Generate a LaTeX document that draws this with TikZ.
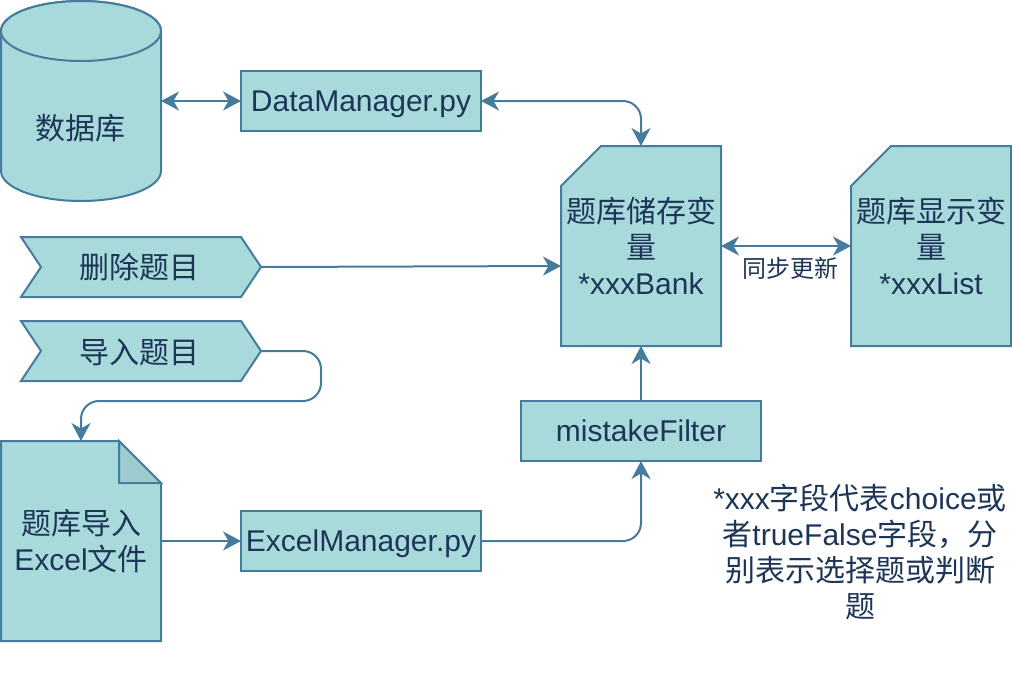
\documentclass[tikz,border=0pt]{standalone}
\usepackage{fontspec}
\setmainfont{Liberation Sans}
\newfontfamily\cjk{Noto Sans CJK SC}
\usetikzlibrary{arrows.meta,backgrounds}
\definecolor{shapefill}{HTML}{A8DADC}
\definecolor{foldfill}{HTML}{9DCCCF}
\definecolor{strokeblue}{HTML}{457B9D}
\definecolor{inkblue}{HTML}{1D3557}
\tikzset{
  x=1pt,y=-1pt,
  shapeline/.style={draw=strokeblue,fill=shapefill,line width=2pt,line join=miter},
  txt/.style={text=inkblue,inner sep=0pt,outer sep=0pt,align=center,font=\fontsize{30}{36}\selectfont},
  box/.style={txt,rectangle,minimum width=#1},
  oneline/.style={text height=27pt,text depth=6pt},
  link/.style={draw=strokeblue,line width=2pt,rounded corners=18pt,-{Stealth[length=18pt,width=19pt,inset=5.5pt]}},
  both/.style={link,{Stealth[length=18pt,width=19pt,inset=5.5pt]}-{Stealth[length=18pt,width=19pt,inset=5.5pt]}}
}
\begin{document}
\begin{tikzpicture}
\useasboundingbox (0,0) rectangle (1012,678);
% nodes
\node[box=160pt,minimum height=200pt] (cyl) at (81,101) {};
\node[txt] (cyltext) at (80,128) {{\cjk 数据库}};
\node[box=240pt,minimum height=60pt,oneline] (dm) at (361,101) {DataManager.py};
\node[box=240pt,minimum height=60pt] (del) at (141,267) {};
\node[txt] (deltext) at (139,267) {{\cjk 删除题目}};
\node[box=240pt,minimum height=60pt] (imp) at (141,351) {};
\node[txt] (imptext) at (139,352) {{\cjk 导入题目}};
\node[box=160pt,minimum height=200pt] (bank) at (641,246) {{\cjk 题库储存变}\\{\cjk 量}\\*xxxBank};
\node[box=160pt,minimum height=200pt] (list) at (931,246) {{\cjk 题库显示变}\\{\cjk 量}\\*xxxList};
\node[box=240pt,minimum height=60pt,oneline] (filter) at (641,431) {mistakeFilter};
\node[box=160pt,minimum height=200pt] (doc) at (81,541) {{\cjk 题库导入}\\Excel{\cjk 文件}};
\node[box=240pt,minimum height=60pt,oneline] (excel) at (361,541) {ExcelManager.py};
\node[txt] (note) at (860,552) {*xxx{\cjk 字段代表}choice{\cjk 或}\\{\cjk 者}trueFalse{\cjk 字段，分}\\{\cjk 别表示选择题或判断}\\{\cjk 题}};
\node[text=inkblue,inner sep=0pt,font=\fontsize{24}{28}\selectfont] (sync) at (790,268) {{\cjk 同步更新}};
% shapes
\begin{scope}[on background layer]
  \draw[shapeline] (cyl.north west) ++(0,30) arc[start angle=180,end angle=0,x radius=80pt,y radius=30pt] -- ++(0,140) arc[start angle=0,end angle=180,x radius=80pt,y radius=-30pt] -- cycle;
  \draw[shapeline] (cyl.north) ++(0,30) ellipse[x radius=80pt,y radius=30pt];
  \draw[shapeline] (dm.south west) rectangle (dm.north east);
  \draw[shapeline] (filter.south west) rectangle (filter.north east);
  \draw[shapeline] (excel.south west) rectangle (excel.north east);
  \draw[shapeline] (del.north west) -- ++(220,0) -- (del.east) -- ++(-20,30) -- (del.south west) -- ++(20,-30) -- cycle;
  \draw[shapeline] (imp.north west) -- ++(220,0) -- (imp.east) -- ++(-20,30) -- (imp.south west) -- ++(20,-30) -- cycle;
  \draw[shapeline] (bank.north west) ++(40,0) -- (bank.north east) -- (bank.south east) -- (bank.south west) -- ++(0,-160) -- cycle;
  \draw[shapeline] (list.north west) ++(40,0) -- (list.north east) -- (list.south east) -- (list.south west) -- ++(0,-160) -- cycle;
  \draw[shapeline] (doc.north west) -- ++(118,0) -- ++(42,42) -- (doc.south east) -- (doc.south west) -- cycle;
  \draw[shapeline,fill=foldfill] (doc.north west) ++(118,0) -- ++(42,42) -- ++(-42,0) -- cycle;
\end{scope}
% way points
\coordinate (dmturn) at (bank.north |- dm.east);
\coordinate (impa) at (321,351);
\coordinate (impb) at (321,401);
\coordinate (impc) at (81,401);
\coordinate (exturn) at (filter.south |- excel.east);
% connectors
\draw[both] (cyl.east) -- (dm.west);
\draw[both] (dm.east) -- (dmturn) -- (bank.north);
\draw[link] (del.east) -- (bank.west |- 0,266);
\draw[link] (imp.east) -- (impa) -- (impb) -- (impc) -- (doc.north);
\draw[link] (doc.east) -- (excel.west);
\draw[link] (excel.east) -- (exturn) -- (filter.south);
\draw[link] (filter.north) -- (bank.south);
\draw[both] (bank.east) -- (list.west);
\end{tikzpicture}
\end{document}
